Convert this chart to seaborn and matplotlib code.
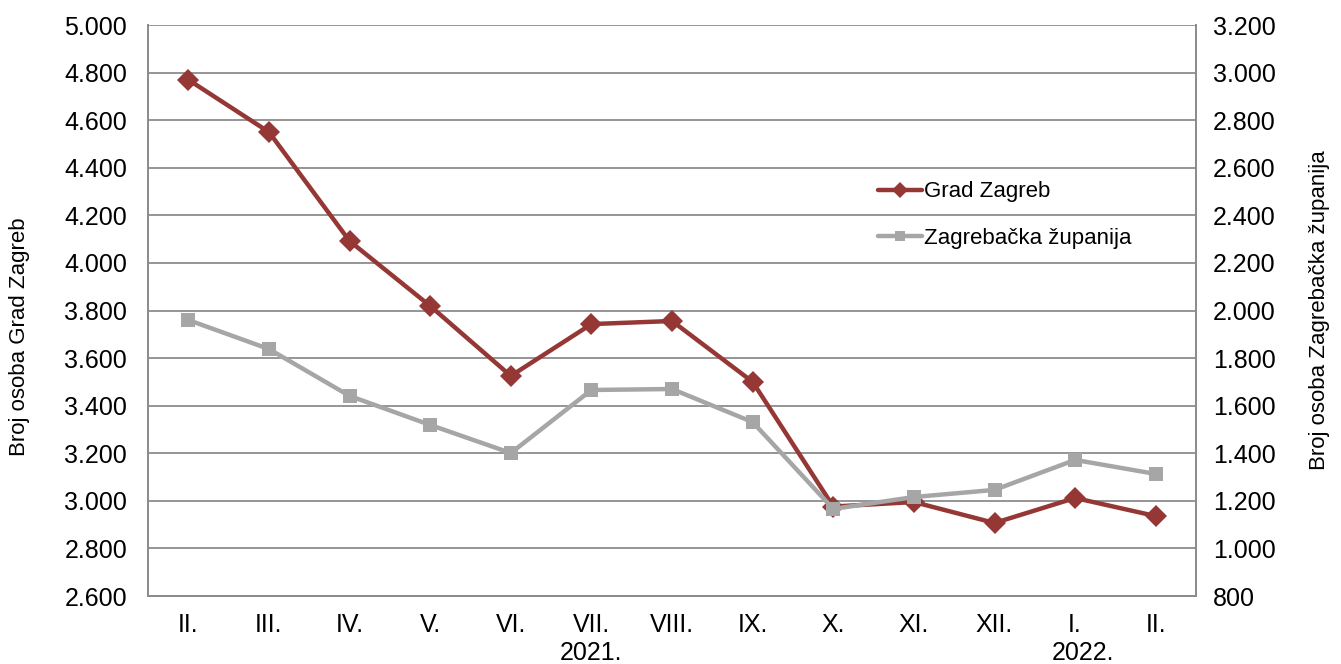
import matplotlib
matplotlib.use("Agg")
import matplotlib.pyplot as plt
import matplotlib.ticker as mticker
import seaborn as sns
import pandas as pd

months = ["II.", "III.", "IV.", "V.", "VI.", "VII.", "VIII.", "IX.", "X.", "XI.", "XII.", "I.", "II."]
grad_zagreb = [4770, 4550, 4092, 3819, 3525, 3743, 3756, 3500, 2976, 2995, 2907, 3012, 2936]
zagrebacka = [1960, 1838, 1641, 1519, 1401, 1666, 1670, 1531, 1166, 1216, 1246, 1372, 1313]
years = ["2021.", "2022."]
year_pos = [5.0, 11.1]

sns.set_theme(style="white")
plt.rcParams['font.family'] = ['Liberation Sans', 'DejaVu Sans']
plt.rcParams['text.color'] = 'black'
plt.rcParams['axes.labelcolor'] = 'black'

RED = "#953735"
GRAY = "#A6A6A6"
GRID = "#8C8C8C"
FS = 18
FS_LAB = 16
FS_LEG = 16

fig = plt.figure(figsize=(13.41, 6.64), dpi=100)
ax = fig.add_axes([0.1104, 0.1024, 0.7815, 0.8599])
ax2 = ax.twinx()

df = pd.DataFrame({"x": list(range(len(months))), "gz": grad_zagreb, "zz": zagrebacka})

sns.lineplot(data=df, x="x", y="gz", ax=ax, color=RED, lw=3.2, marker="D",
             markersize=11, markeredgewidth=0, label="Grad Zagreb", legend=False, zorder=3)
sns.lineplot(data=df, x="x", y="zz", ax=ax2, color=GRAY, lw=3.2, marker="s",
             markersize=10, markeredgewidth=0, label="Zagrebačka županija", legend=False, zorder=3)

ax.set_xlim(-0.5, len(months) - 0.5)
ax.set_ylim(2600, 5000)
ax2.set_ylim(800, 3200)
ax.set_yticks(range(2600, 5001, 200))
ax2.set_yticks(range(800, 3201, 200))
fmt = mticker.FuncFormatter(lambda v, p: f"{int(v):,}".replace(",", "."))
ax.yaxis.set_major_formatter(fmt)
ax2.yaxis.set_major_formatter(fmt)
ax.set_xticks(range(len(months)))
ax.set_xticklabels(months)

ax.grid(axis="y", color=GRID, lw=1.3)
ax.grid(axis="x", visible=False)
ax2.grid(False)
ax.set_axisbelow(True)

for a in (ax, ax2):
    a.tick_params(axis="both", length=0, labelsize=FS, colors="black")
    for s in a.spines.values():
        s.set_color(GRID)
        s.set_linewidth(1.3)
    a.spines["top"].set_visible(False)
ax.tick_params(axis="y", pad=15)
ax2.tick_params(axis="y", pad=12)
ax.tick_params(axis="x", pad=12)

ax.set_xlabel("")
ax.set_ylabel("Broj osoba Grad Zagreb", fontsize=FS_LAB)
ax.yaxis.set_label_coords(-0.113, 0.454)
ax2.set_ylabel("Broj osoba Zagrebačka županija", fontsize=FS_LAB, labelpad=24)

for yl, xp in zip(years, year_pos):
    ax.text(xp, -0.1, yl, transform=ax.get_xaxis_transform(), ha="center", va="center", fontsize=FS)

h1, l1 = ax.get_legend_handles_labels()
h2, l2 = ax2.get_legend_handles_labels()
ax2.legend(h1 + h2, l1 + l2, loc="upper left", bbox_to_anchor=(0.677, 0.761),
           frameon=False, fontsize=FS_LEG, handlelength=2.0, handletextpad=0.1, labelspacing=1.15,
           markerscale=0.75)

fig.savefig("out.png", dpi=100)
